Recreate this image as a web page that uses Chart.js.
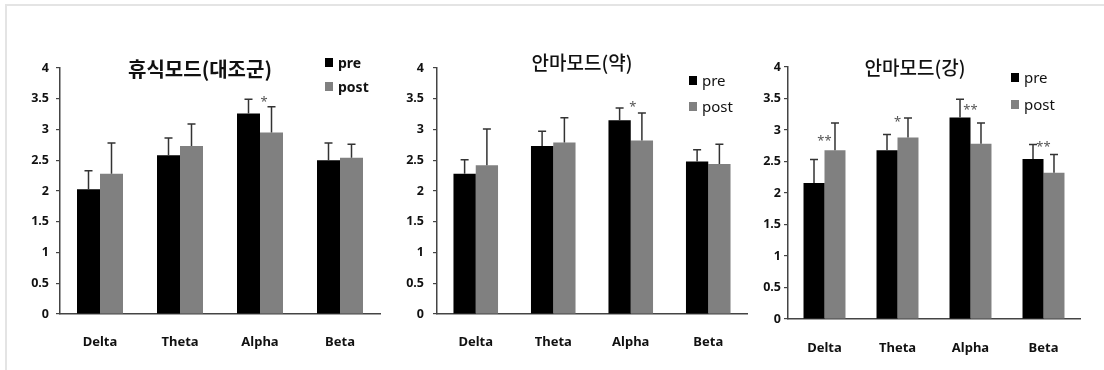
<!DOCTYPE html>
<html><head><meta charset="utf-8">
<script src="https://cdn.jsdelivr.net/npm/chart.js@4.4.1/dist/chart.umd.min.js"></script>
<style>
html,body{margin:0;padding:0;background:#fff;}
#wrap{position:relative;width:1104px;height:370px;overflow:hidden;background:#fff;}
#frame{position:absolute;left:5px;top:4px;width:1104px;height:370px;border-top:2px solid #e4e4e4;border-left:2px solid #e4e4e4;}
canvas{position:absolute;left:0;top:0;}
</style></head><body>
<div id="wrap"><div id="frame"></div>
<canvas id="c1" width="1104" height="370"></canvas>
<canvas id="c2" width="1104" height="370"></canvas>
<canvas id="c3" width="1104" height="370"></canvas>
</div>
<script>
// ---- data ----
const categories = ['Delta', 'Theta', 'Alpha', 'Beta'];
const seriesNames = ['pre', 'post'];
const yTicks = [0, 0.5, 1, 1.5, 2, 2.5, 3, 3.5, 4];

const titles = ['휴식모드(대조군)', '안마모드(약)', '안마모드(강)'];

// panel 1: 휴식모드(대조군)
const restPre = [2.03, 2.58, 3.26, 2.50];
const restPreSD = [0.30, 0.28, 0.23, 0.28];
const restPost = [2.28, 2.73, 2.95, 2.54];
const restPostSD = [0.50, 0.36, 0.42, 0.22];
const restSig = ['', '', '*', ''];
const restSigY = [null, null, 3.51, null];

// panel 2: 안마모드(약)
const weakPre = [2.28, 2.73, 3.15, 2.48];
const weakPreSD = [0.23, 0.24, 0.20, 0.19];
const weakPost = [2.42, 2.79, 2.82, 2.44];
const weakPostSD = [0.59, 0.40, 0.45, 0.32];
const weakSig = ['', '', '*', ''];
const weakSigY = [null, null, 3.43, null];

// panel 3: 안마모드(강)
const strongPre = [2.16, 2.68, 3.20, 2.54];
const strongPreSD = [0.37, 0.25, 0.29, 0.23];
const strongPost = [2.68, 2.88, 2.78, 2.32];
const strongPostSD = [0.43, 0.31, 0.33, 0.29];
const strongSig = ['**', '*', '**', '**'];
const strongSigY = [2.89, 3.19, 3.37, 2.79];

// ---- drawing ----
const COLORS = ['#000000', '#808080'];
const LATIN = "'Noto Sans', 'DejaVu Sans', sans-serif";
const KR = "'Noto Sans CJK KR', 'Noto Sans', sans-serif";

function extras(p) {
  return {
    id: 'extras',
    afterDatasetsDraw(chart) {
      const ctx = chart.ctx, ys = chart.scales.y, xs = chart.scales.x;
      ctx.save();
      // error bars
      chart.data.datasets.forEach((ds, i) => {
        const meta = chart.getDatasetMeta(i);
        meta.data.forEach((bar, j) => {
          const top = ys.getPixelForValue(ds.data[j] + ds.sd[j]);
          ctx.strokeStyle = '#333';
          ctx.lineWidth = 1.5;
          ctx.beginPath();
          ctx.moveTo(bar.x, bar.y);
          ctx.lineTo(bar.x, top);
          ctx.moveTo(bar.x - 4, top);
          ctx.lineTo(bar.x + 4, top);
          ctx.stroke();
        });
      });
      // significance marks
      ctx.fillStyle = '#555';
      ctx.font = '13px ' + LATIN;
      ctx.textAlign = 'center';
      ctx.textBaseline = 'middle';
      p.sig.forEach((s, j) => {
        if (!s) return;
        ctx.fillText(s, xs.getPixelForValue(j) + p.sigDx, ys.getPixelForValue(p.sigY[j]) + 4);
      });
      // title
      ctx.fillStyle = '#111';
      ctx.font = p.titleFont;
      ctx.fillText(p.title, p.titleX, p.titleY);
      // legend
      ctx.font = p.legFont;
      ctx.textAlign = 'left';
      seriesNames.forEach((n, i) => {
        ctx.fillStyle = COLORS[i];
        ctx.fillRect(p.legX, p.legY + i * p.legDy, 8, 9);
        ctx.fillStyle = '#111';
        ctx.fillText(n, p.legX + 13, p.legY + 6 + i * p.legDy);
      });
      ctx.restore();
    }
  };
}

function makeChart(id, pre, preSD, post, postSD, L) {
  const datasets = [
    { label: seriesNames[0], data: pre, sd: preSD, backgroundColor: COLORS[0] },
    { label: seriesNames[1], data: post, sd: postSD, backgroundColor: COLORS[1] }
  ];
  return new Chart(document.getElementById(id), {
    type: 'bar',
    data: { labels: categories, datasets },
    options: {
      responsive: false,
      animation: false,
      events: [],
      layout: { padding: { left: L.padL, right: L.padR, top: L.padT, bottom: 0 } },
      datasets: { bar: { categoryPercentage: 0.575, barPercentage: 1.0 } },
      plugins: { legend: { display: false }, title: { display: false }, tooltip: { enabled: false } },
      scales: {
        x: {
          grid: { display: false, drawTicks: false },
          border: { display: true, color: '#444', width: 1.5 },
          ticks: { color: '#111', padding: L.xPad, font: { family: LATIN, size: 13, weight: 'bold' } },
          afterFit(s) { s.height = L.xH; }
        },
        y: {
          min: 0, max: 4,
          afterBuildTicks(s) { s.ticks = yTicks.map(v => ({ value: v })); },
          grid: { drawOnChartArea: false, drawTicks: true, tickLength: 4, color: '#444', lineWidth: 1.2 },
          border: { display: true, color: '#444', width: 1.5 },
          ticks: { color: '#111', padding: L.yPad, font: { family: LATIN, size: 12.5, weight: 'bold' },
                   callback: v => String(v) },
          afterFit(s) { s.width = L.yW; }
        }
      }
    },
    plugins: [extras(L)]
  });
}

makeChart('c1', restPre, restPreSD, restPost, restPostSD, {
  padL: 0, padR: 724, padT: 68, yW: 60, xH: 56, xPad: 20, yPad: 7,
  sig: restSig, sigY: restSigY, sigDx: 4,
  title: titles[0], titleX: 200, titleY: 69, titleFont: 'bold 20px ' + KR,
  legX: 325, legY: 58, legDy: 24, legFont: 'bold 14px ' + LATIN
});
makeChart('c2', weakPre, weakPreSD, weakPost, weakPostSD, {
  padL: 385, padR: 357, padT: 68, yW: 52, xH: 56, xPad: 20, yPad: 9,
  sig: weakSig, sigY: weakSigY, sigDx: 2,
  title: titles[1], titleX: 582, titleY: 63, titleFont: '500 19px ' + KR,
  legX: 689, legY: 76, legDy: 26, legFont: '15px ' + LATIN
});
makeChart('c3', strongPre, strongPreSD, strongPost, strongPostSD, {
  padL: 748, padR: 24, padT: 67, yW: 40, xH: 51, xPad: 21, yPad: 3,
  sig: strongSig, sigY: strongSigY, sigDx: 0,
  title: titles[2], titleX: 915, titleY: 68, titleFont: '500 19px ' + KR,
  legX: 1011, legY: 73, legDy: 27, legFont: '15px ' + LATIN
});
</script>
</body></html>
